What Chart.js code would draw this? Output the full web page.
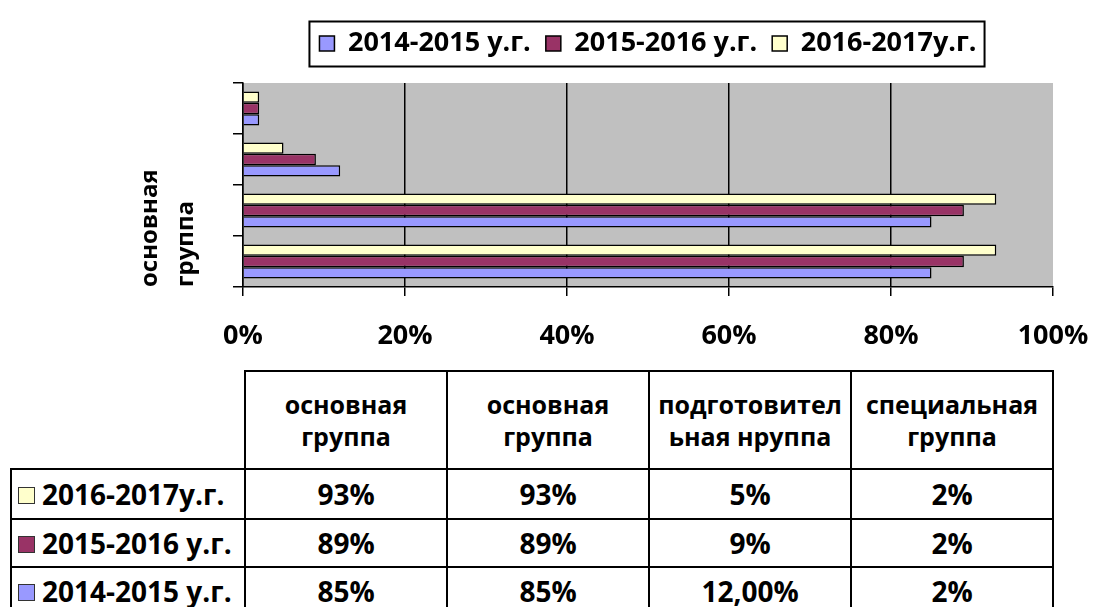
<!DOCTYPE html>
<html>
<head>
<meta charset="utf-8">
<script src="https://cdn.jsdelivr.net/npm/chart.js@4.4.1/dist/chart.umd.min.js"></script>
<style>
  html, body { margin: 0; padding: 0; background: #fff; }
  body { width: 1093px; height: 607px; position: relative; overflow: hidden; font-family: "Open Sans", sans-serif; }
  #wrap { position: absolute; left: 0; top: 0; width: 1093px; height: 370px; }
  #dataTable { position: absolute; left: 10px; top: 370px; border-collapse: collapse; table-layout: fixed; width: 1042px; color: #000; font-weight: bold; }
  #dataTable th, #dataTable td { border: 2px solid #000; text-align: center; padding: 0 3px; overflow-wrap: anywhere; }
  #dataTable th { font-size: 25px; line-height: 32px; height: 96px; }
  #dataTable th.corner { border: none; }
  #dataTable td { font-size: 28px; line-height: 34px; }
  #dataTable td.name { text-align: left; padding-left: 6px; white-space: nowrap; }
  .key { display: inline-block; width: 15px; height: 15px; border: 1px solid #333; margin-right: 7px; vertical-align: 1px; }
</style>
</head>
<body>
<div id="wrap"><canvas id="groupsChart"></canvas></div>
<table id="dataTable"></table>
<script>
// categories as listed in the data table (bottom to top in the chart)
const categories = ['основная группа', 'основная группа', 'подготовительная нруппа', 'специальная группа'];
const seriesNames = ['2014-2015 у.г.', '2015-2016 у.г.', '2016-2017у.г.'];

// shares in percent
const values2014 = [85, 85, 12, 2];
const values2015 = [89, 89, 9, 2];
const values2016 = [93, 93, 5, 2];

// decimals shown in the table
const decimals2014 = [0, 0, 2, 0];
const decimals2015 = [0, 0, 0, 0];
const decimals2016 = [0, 0, 0, 0];

const xTicks = [0, 20, 40, 60, 80, 100];

const seriesColors = ['#9999FF', '#993366', '#FFFFCC'];
const FONT = '"Open Sans", sans-serif';

const allValues = [values2014, values2015, values2016];
const allDecimals = [decimals2014, decimals2015, decimals2016];

// Chart.js draws categories top to bottom, Excel bottom to top
const chartLabels = categories.slice().reverse();
const datasets = [2, 1, 0].map(i => ({
    label: seriesNames[i],
    data: allValues[i].slice().reverse(),
    backgroundColor: seriesColors[i],
    borderColor: '#000',
    borderWidth: 1.5,
    categoryPercentage: 0.67,
    barPercentage: 1
}));

// gray plot area
const plotBg = {
    id: 'plotBg',
    beforeDraw(chart) {
        const { ctx, chartArea: a } = chart;
        ctx.save();
        ctx.fillStyle = '#C0C0C0';
        ctx.fillRect(a.left, a.top, a.width, a.height);
        ctx.restore();
    }
};

// taller legend block plus a frame around the items
const legendFrame = {
    id: 'legendFrame',
    beforeLayout(chart) {
        const lg = chart.legend;
        if (!lg || lg._patched) return;
        const fit = lg.fit;
        lg.fit = function () { fit.call(this); this.height = 68; };
        lg._patched = true;
    },
    afterDraw(chart) {
        const boxes = chart.legend.legendHitBoxes;
        if (!boxes || !boxes.length) return;
        const left = Math.min(...boxes.map(b => b.left)) - 10;
        const right = Math.max(...boxes.map(b => b.left + b.width)) + 8;
        const cy = boxes[0].top + boxes[0].height / 2;
        const ctx = chart.ctx;
        ctx.save();
        ctx.strokeStyle = '#000';
        ctx.lineWidth = 2;
        ctx.strokeRect(left, cy - 22, right - left, 45);
        ctx.restore();
    }
};

const ctx = document.getElementById('groupsChart').getContext('2d');
const groupsChart = new Chart(ctx, {
    type: 'bar',
    data: { labels: chartLabels, datasets: datasets },
    plugins: [plotBg, legendFrame],
    options: {
        indexAxis: 'y',
        responsive: true,
        maintainAspectRatio: false,
        animation: false,
        layout: { padding: { left: 0, right: 40, top: 15, bottom: 0 } },
        scales: {
            x: {
                min: 0,
                max: 100,
                afterBuildTicks: s => { s.ticks = xTicks.map(v => ({ value: v })); },
                ticks: {
                    callback: v => v + '%',
                    color: '#000',
                    font: { family: FONT, size: 27, weight: 'bold' },
                    padding: 24,
                    maxRotation: 0
                },
                grid: {
                    color: c => (c.tick && c.tick.value === 100) ? 'rgba(0,0,0,0)' : '#000',
                    tickColor: '#000',
                    tickLength: 9,
                    lineWidth: 1.5
                },
                border: { color: '#000', width: 1.5 },
                afterFit: s => { s.height = 370 - 287; s.paddingRight = 0; s.paddingLeft = 0; }
            },
            y: {
                ticks: { callback: () => '', padding: 0 },
                grid: { drawOnChartArea: false, offset: true, color: '#000', tickLength: 10, lineWidth: 1.5 },
                border: { color: '#000', width: 1.5 },
                title: {
                    display: true,
                    text: categories[0].split(' '),
                    align: 'start',
                    color: '#000',
                    font: { family: FONT, size: 24, weight: 'bold', lineHeight: 1.5 },
                    padding: { top: 132, bottom: 0 }
                },
                afterFit: s => { s.width = 243; }
            }
        },
        plugins: {
            legend: {
                position: 'top',
                fullSize: false,
                reverse: true,
                labels: {
                    color: '#000',
                    font: { family: FONT, size: 27, weight: 'bold' },
                    boxWidth: 15,
                    boxHeight: 15,
                    padding: 15
                }
            },
            tooltip: { enabled: false }
        }
    }
});

// data table under the chart, newest season on top
const table = document.getElementById('dataTable');
const fmt = (v, d) => v.toFixed(d).replace('.', ',') + '%';
let html = '<colgroup><col style="width:234px">' + categories.map(() => '<col style="width:202px">').join('') + '</colgroup>';
html += '<tr><th class="corner"></th>' + categories.map(c => '<th>' + c + '</th>').join('') + '</tr>';
const rowHeights = [50, 48, 48];
[2, 1, 0].forEach((i, r) => {
    html += '<tr style="height:' + rowHeights[r] + 'px"><td class="name"><span class="key" style="background:' + seriesColors[i] + '"></span>' + seriesNames[i] + '</td>';
    html += allValues[i].map((v, j) => '<td>' + fmt(v, allDecimals[i][j]) + '</td>').join('') + '</tr>';
});
table.innerHTML = html;
</script>
</body>
</html>
